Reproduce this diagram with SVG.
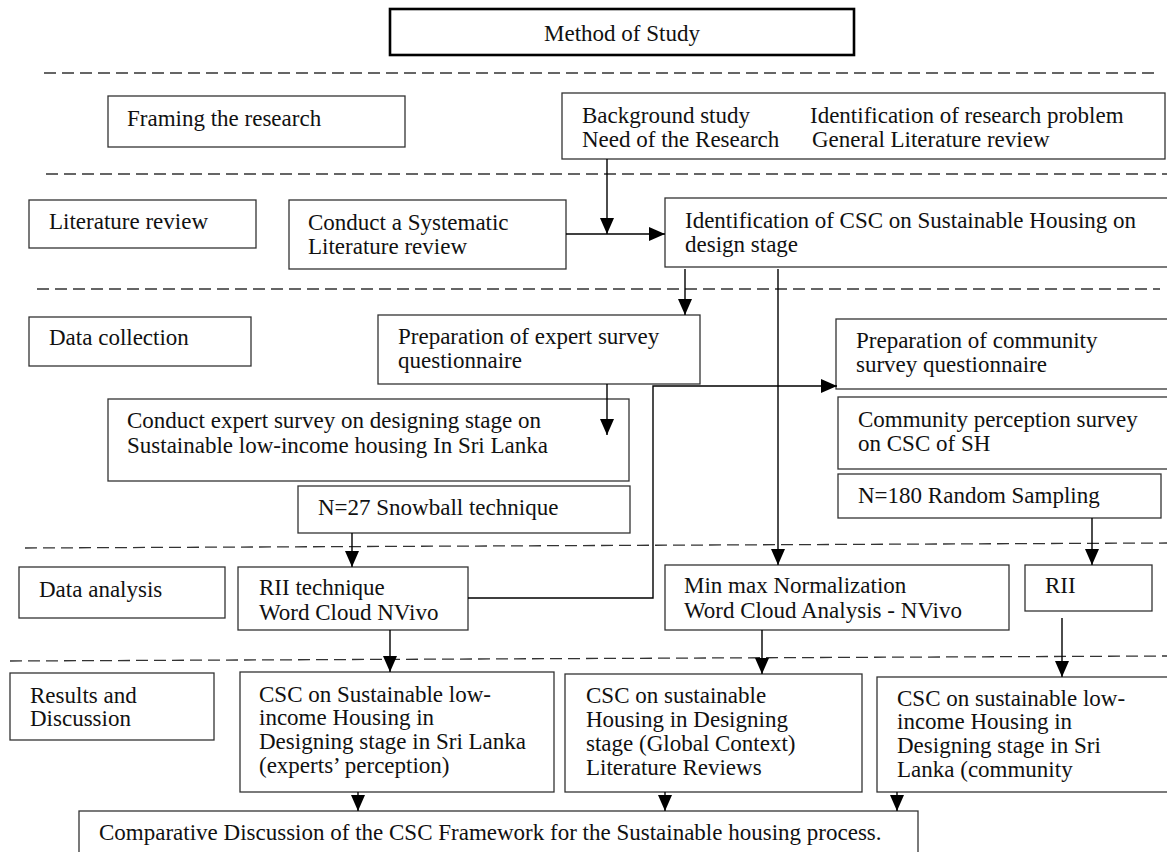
<svg xmlns="http://www.w3.org/2000/svg" width="1167" height="852" viewBox="0 0 1167 852">
<defs>
<marker id="ah" viewBox="0 0 16 14" refX="16" refY="7" markerWidth="16" markerHeight="14" markerUnits="userSpaceOnUse" orient="auto">
<path d="M0,0 L16,7 L0,14 z" fill="#000"/>
</marker>
<style>
.b{fill:#fff;stroke:#333;stroke-width:1.3}
.t{font-family:"Liberation Serif","Times New Roman",serif;font-size:23px;fill:#111}
.d{stroke:#333;stroke-width:1.3;stroke-dasharray:12 6;fill:none}
.c{stroke:#000;stroke-width:1.4;fill:none}
.a{marker-end:url(#ah)}
</style>
</defs>
<rect width="1167" height="852" fill="#fff"/>
<g id="lanes">
<line class="d" x1="44" y1="73" x2="1160" y2="73"/>
<line class="d" x1="46" y1="174" x2="1167" y2="174"/>
<line class="d" x1="37" y1="289" x2="1160" y2="289"/>
<line class="d" x1="25" y1="548" x2="1167" y2="543"/>
<line class="d" x1="10" y1="661" x2="1167" y2="656"/>
</g>
<g id="title"><rect x="390" y="9" width="464" height="46" fill="#fff" stroke="#000" stroke-width="2.6"/><text class="t" x="622" y="41" text-anchor="middle">Method of Study</text></g>
<g id="framing"><rect class="b" x="108" y="96" width="297" height="51"/><text class="t" x="127" y="126">Framing the research</text></g>
<g id="background"><rect class="b" x="562" y="93" width="603" height="66"/>
<text class="t" x="582" y="123">Background study</text><text class="t" x="582" y="147">Need of the Research</text>
<text class="t" x="810" y="123">Identification of research problem</text><text class="t" x="812" y="147">General Literature review</text></g>
<g id="litreview"><rect class="b" x="29" y="200" width="227" height="48"/><text class="t" x="49" y="229">Literature review</text></g>
<g id="systematic"><rect class="b" x="289" y="200" width="277" height="69"/><text class="t" x="308" y="230">Conduct a Systematic</text><text class="t" x="308" y="254">Literature review</text></g>
<g id="identification"><rect class="b" x="665" y="198" width="505" height="69"/><text class="t" x="685" y="228">Identification of CSC on Sustainable Housing on</text><text class="t" x="685" y="252">design stage</text></g>
<g id="datacollection"><rect class="b" x="29" y="317" width="222" height="49"/><text class="t" x="49" y="345">Data collection</text></g>
<g id="prepexpert"><rect class="b" x="378" y="315" width="322" height="69"/><text class="t" x="398" y="344">Preparation of expert survey</text><text class="t" x="398" y="368">questionnaire</text></g>
<g id="conductexpert"><rect class="b" x="108" y="399" width="521" height="82"/><text class="t" x="127" y="428">Conduct expert survey on designing stage on</text><text class="t" x="127" y="453">Sustainable low-income housing In Sri Lanka</text></g>
<g id="n27"><rect class="b" x="298" y="486" width="332" height="47"/><text class="t" x="318" y="515">N=27 Snowball technique</text></g>
<g id="prepcommunity"><rect class="b" x="836" y="319" width="335" height="70"/><text class="t" x="856" y="348">Preparation of community</text><text class="t" x="856" y="372">survey questionnaire</text></g>
<g id="communitysurvey"><rect class="b" x="838" y="397" width="333" height="72"/><text class="t" x="858" y="427">Community perception survey</text><text class="t" x="858" y="451">on CSC of SH</text></g>
<g id="n180"><rect class="b" x="838" y="474" width="323" height="44"/><text class="t" x="858" y="503">N=180 Random Sampling</text></g>
<g id="dataanalysis"><rect class="b" x="19" y="567" width="206" height="51"/><text class="t" x="39" y="597">Data analysis</text></g>
<g id="riitech"><rect class="b" x="238" y="567" width="230" height="63"/><text class="t" x="259" y="595">RII technique</text><text class="t" x="259" y="620">Word Cloud NVivo</text></g>
<g id="minmax"><rect class="b" x="665" y="565" width="344" height="65"/><text class="t" x="684" y="593">Min max Normalization</text><text class="t" x="684" y="618">Word Cloud Analysis - NVivo</text></g>
<g id="rii"><rect class="b" x="1025" y="565" width="127" height="46"/><text class="t" x="1045" y="593">RII</text></g>
<g id="results"><rect class="b" x="10" y="673" width="204" height="67"/><text class="t" x="30" y="703">Results and</text><text class="t" x="30" y="726">Discussion</text></g>
<g id="cscexperts"><rect class="b" x="240" y="672" width="314" height="120"/>
<text class="t" x="259" y="702">CSC on Sustainable low-</text><text class="t" x="259" y="725">income Housing in</text><text class="t" x="259" y="749">Designing stage in Sri Lanka</text><text class="t" x="259" y="773">(experts’ perception)</text></g>
<g id="cscglobal"><rect class="b" x="565" y="674" width="297" height="118"/>
<text class="t" x="586" y="703">CSC on sustainable</text><text class="t" x="586" y="727">Housing in Designing</text><text class="t" x="586" y="751">stage (Global Context)</text><text class="t" x="586" y="775">Literature Reviews</text></g>
<g id="csccommunity"><rect class="b" x="877" y="677" width="295" height="115"/>
<text class="t" x="897" y="706">CSC on sustainable low-</text><text class="t" x="897" y="729">income Housing in</text><text class="t" x="897" y="753">Designing stage in Sri</text><text class="t" x="897" y="777">Lanka (community</text></g>
<g id="comparative"><rect class="b" x="79" y="811" width="839" height="60"/><text class="t" x="99" y="840">Comparative Discussion of the CSC Framework for the Sustainable housing process.</text></g>
<g id="connectors">
<line class="c a" x1="607" y1="159" x2="607" y2="234"/>
<line class="c a" x1="566" y1="234" x2="665" y2="234"/>
<line class="c a" x1="685" y1="269" x2="685" y2="315"/>
<line class="c a" x1="778" y1="269" x2="778" y2="565"/>
<line class="c a" x1="607" y1="384" x2="607" y2="435"/>
<line class="c a" x1="352" y1="533" x2="352" y2="567"/>
<polyline class="c a" points="468,598 653,598 653,386 837,386"/>
<line class="c a" x1="1092" y1="518" x2="1092" y2="565"/>
<line class="c a" x1="390" y1="630" x2="390" y2="672"/>
<line class="c a" x1="762" y1="630" x2="762" y2="674"/>
<line class="c a" x1="1062" y1="618" x2="1062" y2="677"/>
<line class="c a" x1="358" y1="792" x2="358" y2="811"/>
<line class="c a" x1="665" y1="792" x2="665" y2="811"/>
<line class="c a" x1="897" y1="792" x2="897" y2="811"/>
</g>
</svg>
